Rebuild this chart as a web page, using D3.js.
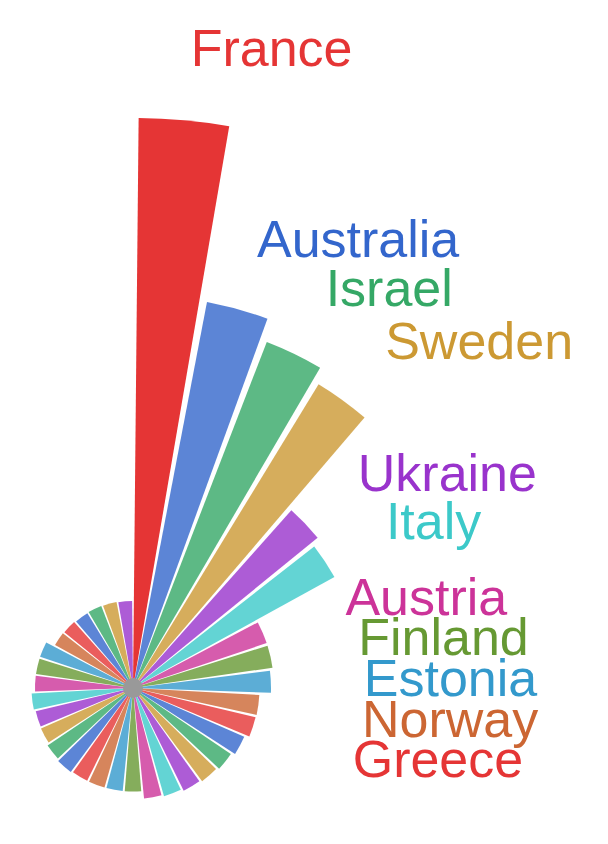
<!DOCTYPE html>
<html>
<head>
<meta charset="utf-8">
<script src="https://cdn.jsdelivr.net/npm/d3@7"></script>
<style>
  html, body { margin: 0; padding: 0; background: #fff; }
  text { font-family: "Liberation Sans", Arial, Helvetica, sans-serif; }
</style>
</head>
<body>
<div id="chart"></div>
<script>
// categories, largest first (only the top ones get a label)
const countries = [
    "France", "Australia", "Israel", "Sweden", "Ukraine", "Italy",
    "Austria", "Finland", "Estonia", "Norway", "Greece",
    "Germany", "Spain", "Netherlands", "Belgium", "Switzerland", "Ireland",
    "Poland", "Portugal", "Denmark", "Iceland", "Croatia", "Serbia",
    "Slovenia", "Lithuania", "Latvia", "Cyprus", "Malta", "Armenia",
    "Georgia", "Azerbaijan", "Moldova", "Romania", "Albania", "San Marino"
];
const values = [
    560, 383, 361, 346, 228, 220,
    131, 131, 128, 116.5, 116,
    111.5, 108, 106, 104.5, 102.5, 101,
    93.5, 93.5, 93.5, 93.5, 94.5, 93,
    90.5, 90, 91.5, 88, 88, 88,
    79, 78.5, 77.5, 78, 77.5, 77
];
const labelCount = 11;
const palette = [
    "#e53535", "#3366cc", "#35a866", "#cc9933", "#9933cc",
    "#3cc9c9", "#cc3399", "#669933", "#3399cc", "#cc6633"
];

const width = 608;
const height = 844;
const cx = 133, cy = 688;
const innerRadius = 10;
const outerRadius = 570;
const labelGap = 73;
const labelMinRadius = 158;

const data = countries.map((c, i) => ({ name: c, value: values[i] }));

const x = d3.scaleBand()
    .domain(countries)
    .range([0, 2 * Math.PI])
    .paddingInner(0.11)
    .paddingOuter(0.055);

const y = d3.scaleLinear()
    .domain([0, d3.max(values)])
    .range([innerRadius, outerRadius]);

const color = d3.scaleOrdinal()
    .domain(countries)
    .range(palette);

const arc = d3.arc()
    .innerRadius(0)
    .outerRadius(d => y(d.value))
    .startAngle(d => x(d.name))
    .endAngle(d => x(d.name) + x.bandwidth());

const svg = d3.select("#chart")
    .append("svg")
    .attr("width", width)
    .attr("height", height);

const g = svg.append("g")
    .attr("transform", `translate(${cx},${cy})`);

g.append("g")
    .selectAll("path")
    .data(data)
    .join("path")
    .attr("d", arc)
    .attr("fill", d => color(d.name))
    .attr("fill-opacity", (d, i) => i === 0 ? 1 : 0.8);

g.append("circle")
    .attr("r", innerRadius)
    .attr("fill", "#999");

// labels sit out along each bar's middle angle
g.append("g")
    .selectAll("text")
    .data(data.slice(0, labelCount))
    .join("text")
    .attr("x", d => {
        const a = x(d.name) + x.bandwidth() / 2;
        return Math.sin(a) * (Math.max(y(d.value), labelMinRadius) + labelGap);
    })
    .attr("y", d => {
        const a = x(d.name) + x.bandwidth() / 2;
        return -Math.cos(a) * (Math.max(y(d.value), labelMinRadius) + labelGap);
    })
    .attr("dominant-baseline", "central")
    .attr("font-size", 52)
    .attr("fill", d => color(d.name))
    .text(d => d.name);
</script>
</body>
</html>
